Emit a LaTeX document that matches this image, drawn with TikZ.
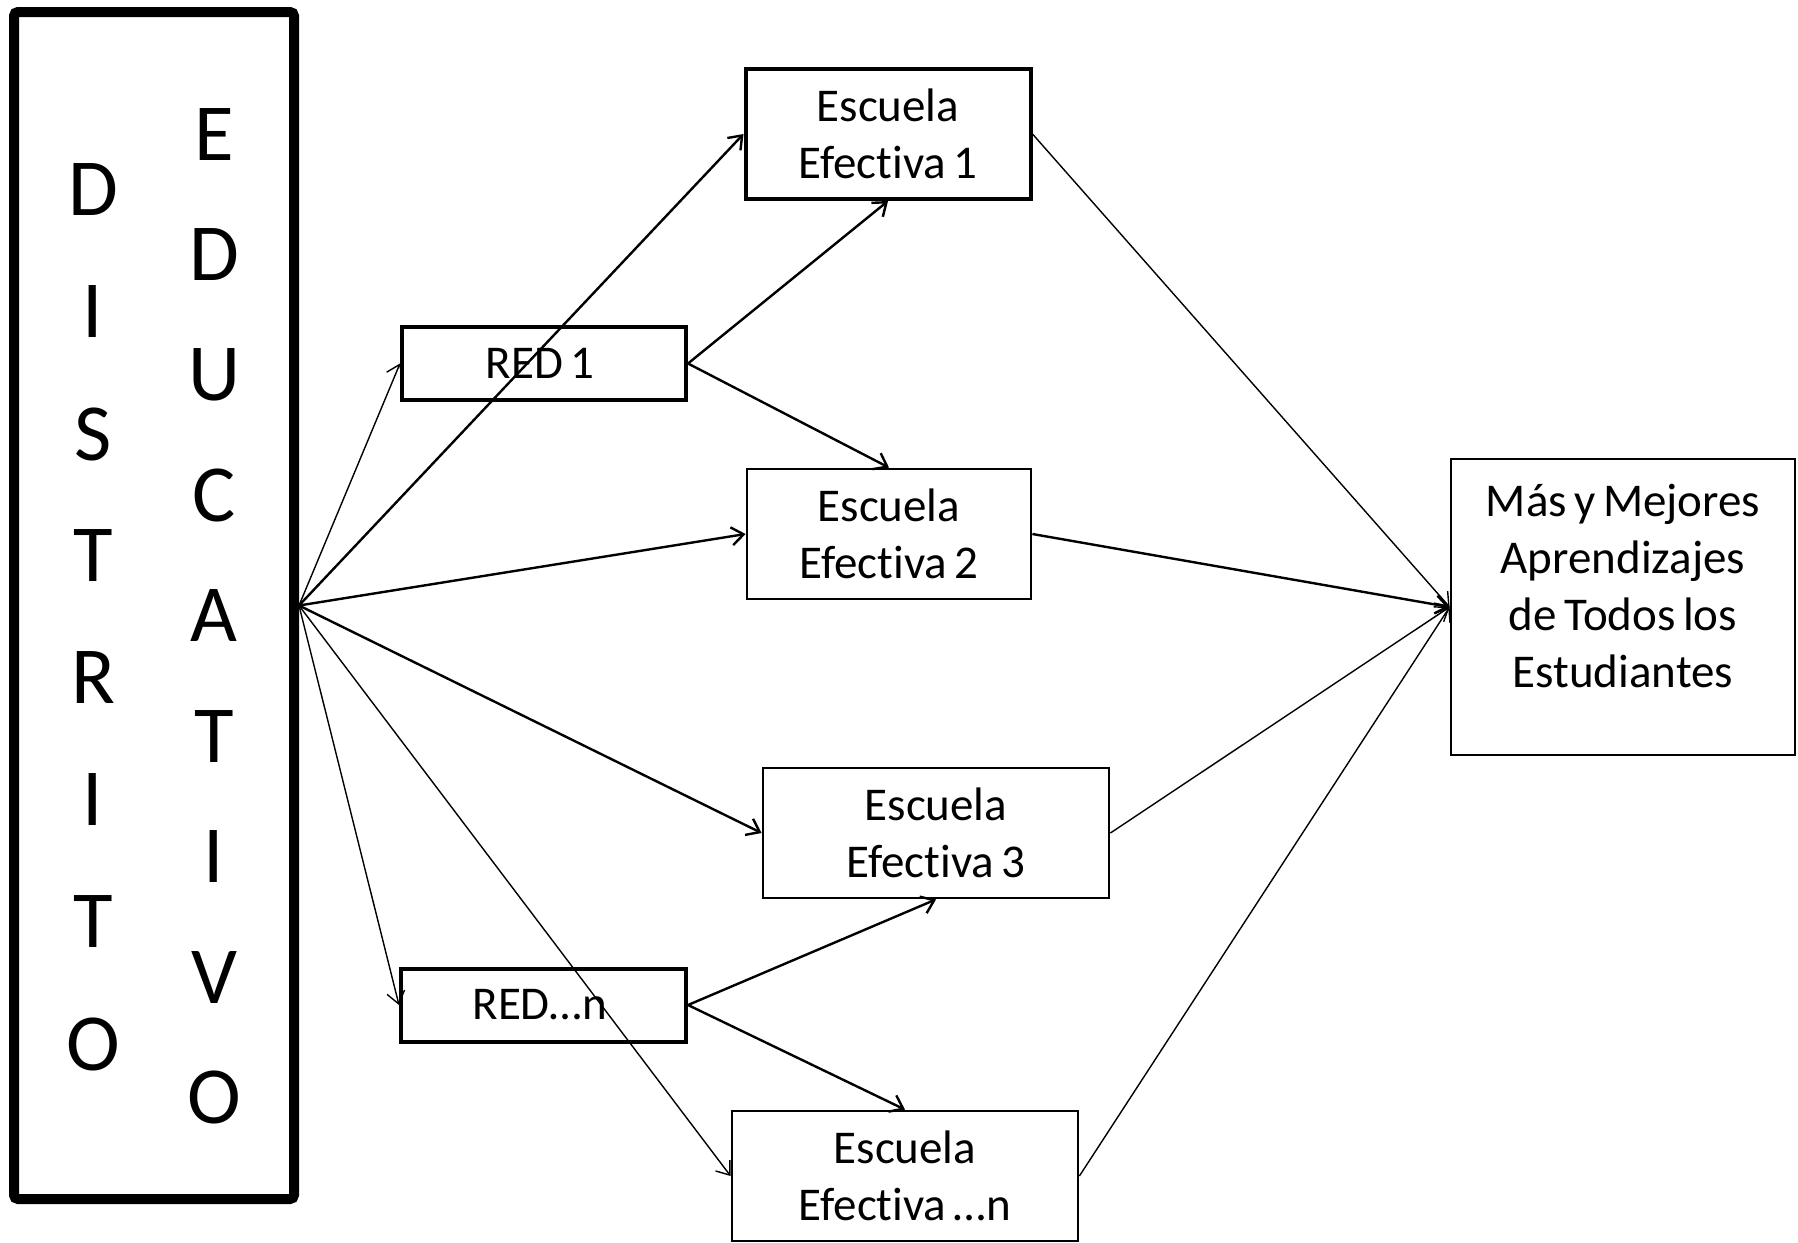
\documentclass[tikz,border=0pt]{standalone}
\usepackage{fontspec}
\setmainfont[Ligatures=NoCommon, WordSpace=0.7]{Carlito}
\usetikzlibrary{arrows.meta}

\tikzset{
    caja/.style={draw, line width=1.4pt, align=center, inner sep=0pt, font=\fontsize{23.5pt}{28.5pt}\selectfont},
    cajagruesa/.style={caja, line width=2pt},
    letra/.style={font=\fontsize{40.5pt}{48pt}\selectfont},
    flecha/.style={-{Straight Barb[length=6pt,width=9pt]}, line width=1.2pt},
    flechafina/.style={flecha, line width=0.7pt}
}

\begin{document}
\begin{tikzpicture}[x=0.5pt, y=-0.5pt]
            \useasboundingbox (0, 0) rectangle (1798, 1242);

            \node[draw, line width=5pt, rounded corners=2pt, minimum width=140pt, minimum height=593.5pt, inner sep=0pt] (dist) at (154, 605.5) {};
            \foreach \l [count=\i] in {D,I,S,T,R,I,T,O}
                \node[letra] (d\i) at (93, 68+122*\i) {\l};
            \foreach \l [count=\i] in {E,D,U,C,A,T,I,V,O}
                \node[letra] (e\i) at (214, 14+120.4*\i) {\l};

            \node[cajagruesa, minimum width=142pt, minimum height=36.5pt] (red1) at (544, 363.5) { RED 1 };
            \node[cajagruesa, minimum width=142.5pt, minimum height=36.5pt] (redn) at (543.5, 1005) { RED…n };

            \node[cajagruesa, minimum width=142.5pt, minimum height=65pt] (esc1) at (888, 134) { Escuela\\Efectiva 1 };
            \node[caja, minimum width=142pt, minimum height=65pt] (esc2) at (889, 534) { Escuela\\Efectiva 2 };
            \node[caja, minimum width=173pt, minimum height=65pt] (esc3) at (936, 833) { Escuela\\Efectiva 3 };
            \node[caja, minimum width=173pt, minimum height=65pt] (escn) at (905, 1176) { Escuela\\Efectiva …n };

            \node[caja, minimum width=172pt, minimum height=148pt] (mas) at (1623, 607) {};
            \node[align=center, font=\fontsize{23.5pt}{28.5pt}\selectfont] (mastexto) at (1623, 586) { Más y Mejores\\Aprendizajes\\de Todos los\\Estudiantes };

            \draw[flechafina] (dist.east) to (red1.west);
            \draw[flecha] (dist.east) to (esc1.west);
            \draw[flecha] (dist.east) to (esc2.west);
            \draw[flecha] (dist.east) to (esc3.west);
            \draw[flechafina] (dist.east) to (redn.west);
            \draw[flechafina] (dist.east) to (escn.west);

            \draw[flecha] (red1.east) to (esc1.south);
            \draw[flecha] (red1.east) to (esc2.north);
            \draw[flecha] (redn.east) to (esc3.south);
            \draw[flecha] (redn.east) to (escn.north);

            \draw[flechafina] (esc1.east) to (mas.west);
            \draw[flecha] (esc2.east) to (mas.west);
            \draw[flechafina] (esc3.east) to (mas.west);
            \draw[flechafina] (escn.east) to (mas.west);
        \end{tikzpicture}
\end{document}
